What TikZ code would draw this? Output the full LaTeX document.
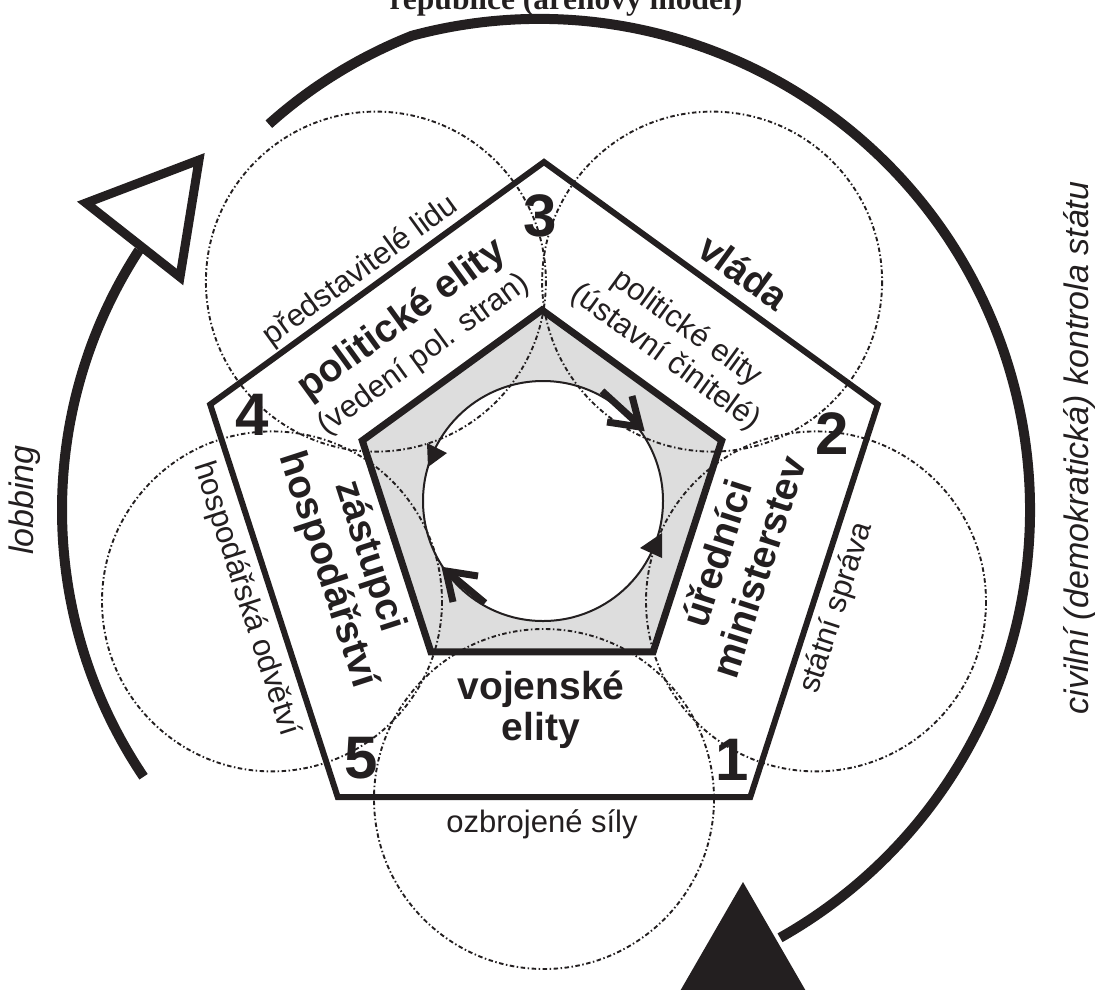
\documentclass[tikz,border=0pt]{standalone}
\usepackage{fontspec}
\setmainfont{Liberation Sans}
\newfontfamily\titlefont{Liberation Serif}
\definecolor{ink}{HTML}{231F20}
\definecolor{pgray}{HTML}{DDDDDD}
\begin{document}
\begin{tikzpicture}[x=1pt,y=-1pt,
  outerpent/.style={draw=ink, line width=6pt, line join=miter},
  innerpent/.style={draw=ink, line width=7pt, line join=miter},
  dotc/.style={draw=ink, line width=1.9pt, dash pattern=on 4.5pt off 2.5pt on 1.5pt off 2.5pt},
  bigarc/.style={draw=ink, line width=10pt},
  varrow/.style={draw=ink, line width=7pt, line join=miter},
  boldlbl/.style={font=\bfseries\fontsize{39}{44}\selectfont, text=ink, inner sep=0pt, align=center},
  reglbl/.style={font=\fontsize{31}{36}\selectfont, text=ink, inner sep=0pt, align=center},
  numlbl/.style={font=\bfseries\fontsize{60}{60}\selectfont, text=ink, inner sep=0pt},
  itlbl/.style={font=\itshape\fontsize{34}{38}\selectfont, text=ink, inner sep=0pt},
]
\useasboundingbox (0,0) rectangle (1095,989);
% outer pentagon
\coordinate (o3) at (544,162);
\coordinate (o2) at (877.8,404.5);
\coordinate (o1) at (750.3,797);
\coordinate (o5) at (337.7,797);
\coordinate (o4) at (210.2,404.5);
% inner pentagon
\coordinate (i3) at (542,310);
\coordinate (i2) at (721.7,440.6);
\coordinate (i1) at (653.1,651.9);
\coordinate (i5) at (430.9,651.9);
\coordinate (i4) at (362.3,440.6);
% circle centres
\coordinate (cc) at (543,501);
\coordinate (cb) at (544,799);
\coordinate (crl) at (816,601.4);
\coordinate (ctr) at (712.1,281.6);
\coordinate (ctl) at (375.9,281.6);
\coordinate (cll) at (272,601.4);
\coordinate (big) at (539,510);

\fill[pgray] (i3) -- (i2) -- (i1) -- (i5) -- (i4) -- cycle;
\fill[white] (cc) circle[radius=120];

\foreach \c in {cb,crl,ctr,ctl,cll}
  \draw[dotc] (\c) circle[radius=170];

\draw[innerpent] (i3) -- (i2) -- (i1) -- (i5) -- (i4) -- cycle;
\draw[outerpent] (o3) -- (o2) -- (o1) -- (o5) -- (o4) -- cycle;

% inner circle with arrows
\draw[ink, line width=2pt] (cc) circle[radius=120];
\draw[varrow] (602,391) -- (637,423);
\draw[varrow] (607,422) -- (640,427) -- (632,396);
\draw[varrow] (485,603) -- (449,573);
\draw[varrow] (478,576) -- (446,571) -- (453,602);
\fill[ink] (427,443) -- (447,453) -- (428,467) -- cycle;
\fill[ink] (640,548) -- (662,533) -- (662,558) -- cycle;

% labels
\node[numlbl] (n3) at (540,216) {3};
\node[numlbl] (n4) at (252,415) {4};
\node[numlbl] (n2) at (832,434) {2};
\node[numlbl] (n1) at (732,760) {1};
\node[numlbl] (n5) at (361,758) {5};

\node[reglbl, rotate=36] (lidu) at (361,271) {představitelé lidu};
\node[boldlbl, rotate=36] (pol) at (402,320) {politické elity};
\node[reglbl, rotate=36] (ved) at (424,355) {(vedení pol. stran)};
\node[boldlbl, rotate=-36] (vlada) at (744,272) {vláda};
\node[reglbl, rotate=-36] (ust) at (676,343) {politické elity\\(ústavní činitelé)};
\node[boldlbl, rotate=72] (ured) at (737,560) {úředníci\\ministerstev};
\node[reglbl, rotate=72] (sprava) at (837,608) {státní správa};
\node[boldlbl, anchor=base] (voj) at (541,699) {vojenské};
\node[boldlbl, anchor=base] (voj2) at (541,740) {elity};
\node[reglbl, anchor=base] (ozb) at (542,832) {ozbrojené síly};
\node[boldlbl, rotate=-72] (zast) at (348,563) {zástupci\\hospodářství};
\node[reglbl, rotate=-72] (odv) at (246,599) {hospodářská odvětví};
\node[itlbl, rotate=90] (lob) at (25,500) {lobbing};
\node[itlbl, rotate=90] (civ) at (1079,448) {civilní (demokratická) kontrola státu};
\node[font=\titlefont\bfseries\fontsize{31.5}{34}\selectfont, text=ink, inner sep=0pt, anchor=base] (title) at (566,9) {republice (arénový model)};

% big arcs
\draw[bigarc] plot[domain=235:255, samples=30, variable=\t] ({539+(471+(\t-235))*cos(\t)}, {510+(471+(\t-235))*sin(\t)}) arc[start angle=255, end angle=420.6, radius=491];
\fill[ink] (743,882) -- (668,1012) -- (818,1012) -- cycle;
\draw[bigarc] (big) ++(146:477) arc[start angle=146, end angle=213, radius=477];
\draw[ink, line width=9pt, line join=miter, fill=white] (86,203) -- (199,160) -- (180,277) -- cycle;
\end{tikzpicture}
\end{document}
